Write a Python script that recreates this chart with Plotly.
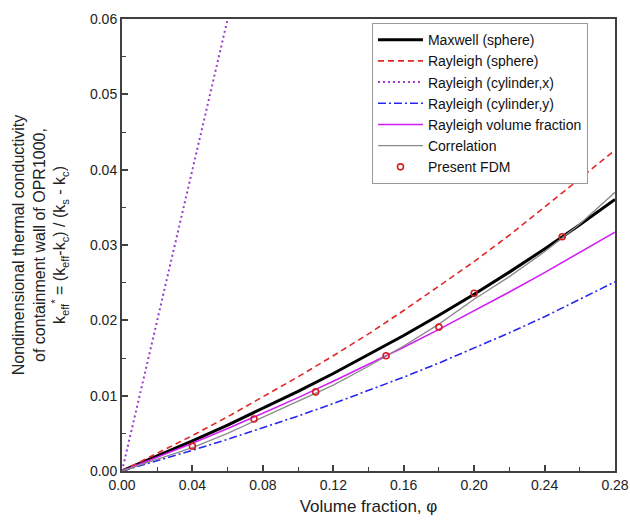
import plotly.graph_objects as go

# Volume fraction sample points
phi = [0.00, 0.02, 0.04, 0.06, 0.08, 0.10, 0.12, 0.14, 0.16, 0.18, 0.20, 0.22, 0.24, 0.26, 0.28]

maxwell_sphere = [0.0, 0.00196, 0.00399, 0.00610, 0.00829, 0.01057, 0.01294, 0.01541,
                  0.01799, 0.02067, 0.02347, 0.02640, 0.02947, 0.03268, 0.03605]
rayleigh_sphere = [0.0, 0.0023, 0.0047, 0.0072, 0.0098, 0.0125, 0.0153, 0.0182,
                   0.0213, 0.0245, 0.0278, 0.0313, 0.0350, 0.0388, 0.0426]
rayleigh_cyl_y = [0.0, 0.00135, 0.00275, 0.00421, 0.00573, 0.00730, 0.00895, 0.01067,
                  0.01246, 0.01433, 0.01629, 0.01834, 0.02048, 0.02274, 0.02511]
rayleigh_volfrac = [0.0, 0.00181, 0.00368, 0.00563, 0.00765, 0.00974, 0.01190, 0.01413,
                    0.01643, 0.01880, 0.02124, 0.02375, 0.02633, 0.02898, 0.03171]
correlation = [0.0, 0.0015, 0.0031, 0.0050, 0.0071, 0.0093, 0.0114, 0.0139,
               0.0166, 0.0195, 0.0228, 0.0258, 0.0291, 0.0328, 0.0370]

phi_cyl_x = [0.00, 0.02, 0.04, 0.06]
rayleigh_cyl_x = [0.00, 0.02, 0.04, 0.06]

phi_fdm = [0.04, 0.075, 0.11, 0.15, 0.18, 0.20, 0.25]
k_fdm = [0.0033, 0.0069, 0.0105, 0.0153, 0.0191, 0.0236, 0.0311]

x_ticks = [0.00, 0.04, 0.08, 0.12, 0.16, 0.20, 0.24, 0.28]
y_ticks = [0.00, 0.01, 0.02, 0.03, 0.04, 0.05, 0.06]

fig = go.Figure()
fig.add_trace(go.Scatter(x=phi, y=maxwell_sphere, mode="lines", name="Maxwell (sphere)",
                         line=dict(color="black", width=3)))
fig.add_trace(go.Scatter(x=phi, y=rayleigh_sphere, mode="lines", name="Rayleigh (sphere)",
                         line=dict(color="#e02828", width=1.6, dash="6px,4px")))
fig.add_trace(go.Scatter(x=phi_cyl_x, y=rayleigh_cyl_x, mode="lines", name="Rayleigh (cylinder,x)",
                         line=dict(color="#9a3cc8", width=2, dash="2px,3px")))
fig.add_trace(go.Scatter(x=phi, y=rayleigh_cyl_y, mode="lines", name="Rayleigh (cylinder,y)",
                         line=dict(color="#2626f0", width=1.6, dash="8px,3px,2px,3px")))
fig.add_trace(go.Scatter(x=phi, y=rayleigh_volfrac, mode="lines", name="Rayleigh volume fraction",
                         line=dict(color="#d21ef5", width=1.6)))
fig.add_trace(go.Scatter(x=phi, y=correlation, mode="lines", name="Correlation",
                         line=dict(color="#8a8a8a", width=1.3)))
fig.add_trace(go.Scatter(x=phi_fdm, y=k_fdm, mode="markers", name="Present FDM",
                         marker=dict(symbol="circle-open", size=6, color="#d42020",
                                     line=dict(width=1.6, color="#d42020"))))

axis_common = dict(
    showline=True, linecolor="#404040", linewidth=2, mirror=True,
    showgrid=False, zeroline=False, automargin=False,
    ticks="inside", ticklen=6, tickwidth=1.5, tickcolor="#404040",
    tickfont=dict(family="Liberation Sans, Arial", size=14, color="#222"),
)

fig.update_layout(
    width=630, height=521,
    margin=dict(l=122, r=15, t=19, b=50),
    plot_bgcolor="white", paper_bgcolor="white",
    font=dict(family="Liberation Sans, Arial", color="#222"),
    xaxis=dict(range=[0, 0.28], tickvals=x_ticks, tickformat=".2f",
               title=dict(text="Volume fraction, φ", font=dict(size=17), standoff=8),
               minor=dict(ticks="inside", ticklen=4, dtick=0.02, tickcolor="#404040", tickwidth=1.2),
               **axis_common),
    yaxis=dict(range=[0, 0.06], tickvals=y_ticks, tickformat=".2f",
               title=dict(text="Nondimensional thermal conductivity<br>of containment wall of OPR1000,<br>"
                               "k<sub>eff</sub><sup>*</sup> = (k<sub>eff</sub>-k<sub>c</sub>) / (k<sub>s</sub> - k<sub>c</sub>)",
                          font=dict(size=16), standoff=20),
               minor=dict(ticks="inside", ticklen=4, dtick=0.005, tickcolor="#404040", tickwidth=1.2),
               **axis_common),
    legend=dict(x=0.507, y=0.991, xanchor="left", yanchor="top",
                bgcolor="white", bordercolor="#9a9a9a", borderwidth=1,
                font=dict(size=14, color="#111"), tracegroupgap=0,
                itemwidth=45, entrywidth=220),
    showlegend=True,
)

fig.write_html("out.html", config={"displayModeBar": False},
               post_script="document.body.style.margin='0';document.body.style.overflow='hidden';")
